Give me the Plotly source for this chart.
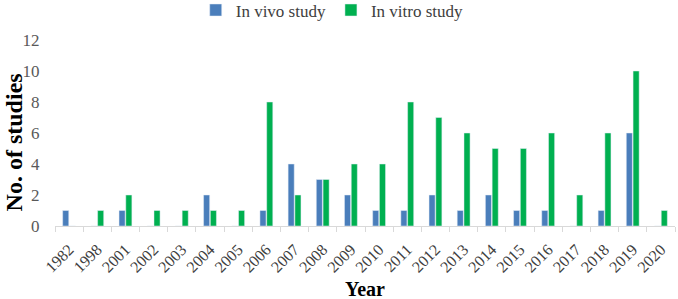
import plotly.graph_objects as go

years = ["1982", "1998", "2001", "2002", "2003", "2004", "2005", "2006", "2007", "2008",
         "2009", "2010", "2011", "2012", "2013", "2014", "2015", "2016", "2017", "2018",
         "2019", "2020"]
in_vivo = [1, 0, 1, 0, 0, 2, 0, 1, 4, 3, 2, 1, 1, 2, 1, 2, 1, 1, 0, 1, 6, 0]
in_vitro = [0, 1, 2, 1, 1, 1, 1, 8, 2, 3, 4, 4, 8, 7, 6, 5, 5, 6, 2, 6, 10, 1]

FONT = "Liberation Serif"

fig = go.Figure()
fig.add_trace(go.Bar(x=years, y=in_vivo, name="In vivo study", marker_color="#4a7ebb"))
fig.add_trace(go.Bar(x=years, y=in_vitro, name="In vitro study", marker_color="#00b050"))

fig.update_layout(
    width=678, height=299,
    margin=dict(l=55, r=3, t=40, b=73),
    paper_bgcolor="white", plot_bgcolor="white",
    barmode="group", bargap=0.52, bargroupgap=0.1,
    font=dict(family=FONT, size=16, color="#595959"),
    showlegend=True,
    legend=dict(orientation="h", x=0.49, xanchor="center", xref="container",
                y=0.965, yanchor="middle", yref="container",
                font=dict(family=FONT, size=17, color="#404040"),
                itemwidth=30, traceorder="normal", bgcolor="rgba(0,0,0,0)"),
    xaxis=dict(type="category", range=[-0.5, 21.5], showline=True, linecolor="#d9d9d9", linewidth=1,
               ticks="outside", tickson="boundaries", ticklen=5, tickcolor="#d9d9d9",
               tickangle=-45, ticklabelstandoff=7,
               tickfont=dict(family=FONT, size=16, color="#404040"),
               automargin=False),
    yaxis=dict(range=[0, 12], dtick=2, showgrid=False, zeroline=False, showline=False,
               ticks="outside", ticklen=11, tickcolor="rgba(0,0,0,0)",
               tickfont=dict(family=FONT, size=17, color="#595959"),
               automargin=False),
    annotations=[
        dict(text="<b>Year</b>", xref="paper", yref="paper", x=0.5, y=-0.339,
             xanchor="center", yanchor="middle", showarrow=False,
             font=dict(family=FONT, size=20, color="#000000")),
        dict(text="<b>No. of studies</b>", xref="paper", yref="paper", x=-0.066, y=0.45,
             xanchor="center", yanchor="middle", textangle=-90, showarrow=False,
             font=dict(family=FONT, size=24, color="#000000")),
    ],
)

fig.write_html("out.html", post_script="document.body.style.margin='0';",
               config={"displayModeBar": False})
